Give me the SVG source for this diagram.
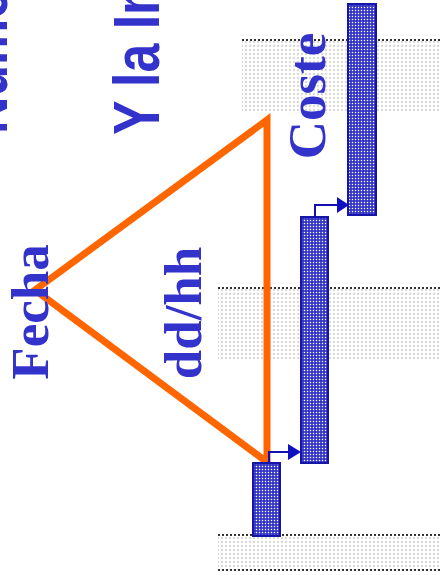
<svg xmlns="http://www.w3.org/2000/svg" width="440" height="585" viewBox="0 0 440 585">
  <style>
    .serif { font-family: "Liberation Serif", "Times New Roman", serif; font-weight: bold; font-size: 53px; fill: #3333CC; }
    .sans { font-family: "Liberation Sans", Arial, sans-serif; font-weight: bold; font-size: 64px; fill: #3333CC; }
    .bar { fill: url(#barPat); stroke: #1515A8; stroke-width: 2; }
    .band { fill: url(#bandPat); }
    .dotline { stroke: #333; stroke-width: 2; stroke-dasharray: 2 2; }
    .link { fill: none; stroke: #1010B0; stroke-width: 2; }
    .head { fill: #1010C0; }
  </style>
  <defs>
    <pattern id="barPat" width="3" height="3" patternUnits="userSpaceOnUse">
      <rect width="3" height="3" fill="#3535C8"/>
      <circle cx="1.5" cy="1.5" r="0.75" fill="#ffffff"/>
    </pattern>
    <pattern id="bandPat" width="4" height="4" patternUnits="userSpaceOnUse">
      <rect width="4" height="4" fill="#ffffff"/>
      <circle cx="2" cy="2" r="0.9" fill="#c8c8c8"/>
    </pattern>
  </defs>
  <rect width="440" height="585" fill="#ffffff"/>

  <g id="bands">
    <rect class="band" x="242" y="41" width="198" height="72"/>
    <line class="dotline" x1="242" y1="40" x2="440" y2="40"/>
    <rect class="band" x="218" y="289" width="222" height="72"/>
    <line class="dotline" x1="218" y1="288" x2="440" y2="288"/>
    <rect class="band" x="218" y="536" width="222" height="34"/>
    <line class="dotline" x1="218" y1="535" x2="440" y2="535"/>
    <line class="dotline" x1="218" y1="570" x2="440" y2="570"/>
  </g>

  <g id="title">
    <text class="sans" transform="translate(7,134) rotate(-90) scale(0.81,1)">Nume</text>
    <text class="sans" transform="translate(159,135) rotate(-90) scale(0.81,1)">Y la In</text>
  </g>

  <g id="triangle">
    <polygon points="35,290 267,120 267,462" fill="none" stroke="#FF6600" stroke-width="7" stroke-linejoin="miter"/>
  </g>

  <g id="task1"><rect class="bar" x="348" y="4" width="28" height="211"/></g>
  <g id="task2"><rect class="bar" x="301" y="217" width="27" height="246"/></g>
  <g id="task3"><rect class="bar" x="253" y="463" width="27" height="73"/></g>

  <g id="connectors">
    <path class="link" d="M315,217 V205 H339"/>
    <polygon class="head" points="337,197 349,205 337,213"/>
    <path class="link" d="M269,463 V452 H290"/>
    <polygon class="head" points="288,444 301,452 288,460"/>
  </g>

  <g id="labels">
    <text class="serif" text-anchor="middle" transform="translate(48,312) rotate(-90)">Fecha</text>
    <text class="serif" text-anchor="middle" transform="translate(201,313) rotate(-90)">dd/hh</text>
    <text class="serif" text-anchor="middle" transform="translate(325,96) rotate(-90)">Coste</text>
  </g>
</svg>
